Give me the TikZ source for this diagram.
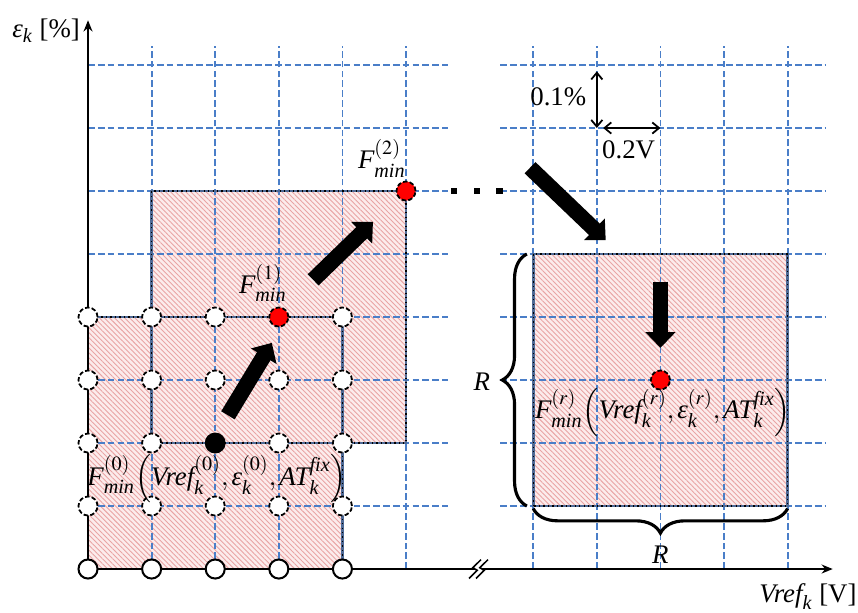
\documentclass[tikz,border=0pt]{standalone}
\usepackage{amsmath}
\usepackage{mathptmx}
\usepackage{fontspec}
\setmainfont{Liberation Serif}
\usepackage{tikz}
\usetikzlibrary{arrows.meta,positioning,calc,decorations.pathreplacing,patterns.meta}
\definecolor{srchGrid}{HTML}{4A7EC8}
\definecolor{srchFill}{HTML}{FCECEC}
\definecolor{srchHatch}{HTML}{E9A4A4}
\definecolor{srchEdge}{HTML}{4F6A96}
\definecolor{srchRed}{HTML}{FF0000}
\newcommand{\ital}[1]{\textit{#1}}
\newcommand{\fmin}[1]{\ital{F}_{\ital{min}}^{(#1)}}
\tikzset{
    >=Stealth,
    every picture/.style={font=\fontsize{12}{14}\selectfont},
    gridline/.style={draw=srchGrid, line width=0.8pt, dash pattern=on 3pt off 1.4pt},
    region/.style={preaction={fill=srchFill}, pattern={Lines[angle=-45,distance=1.6pt,line width=0.4pt]}, pattern color=srchHatch},
    outline/.style={draw=srchEdge, line width=1.2pt, postaction={draw=black, line width=0.6pt, dash pattern=on 0.6pt off 1.4pt}},
    axis/.style={line width=0.8pt, -{Stealth[length=5pt,width=4pt]}},
    probe/.style={circle, draw=black, fill=white, line width=0.8pt, dash pattern=on 2pt off 1pt, minimum size=0.3cm, inner sep=0pt},
    edgeprobe/.style={probe, solid, line width=0.9pt},
    optpoint/.style={probe, fill=srchRed},
    startpoint/.style={probe, solid, fill=black},
    dotsq/.style={rectangle, fill=black, minimum size=0.1cm, inner sep=0pt},
    bigarrow/.style={line width=7pt, -{Triangle[length=7pt,width=13pt]}},
    scalearrow/.style={line width=0.8pt, {Straight Barb[length=3pt,width=5pt]}-{Straight Barb[length=3pt,width=5pt]}},
    rbrace/.style={decorate, decoration={brace, amplitude=11pt}, line width=1.4pt}
}
\begin{document}
\begin{tikzpicture}[x=1cm, y=0.9906cm]
\useasboundingbox (-1.384,-0.698) rectangle (12.107,9.032);
% search regions
\path[region] (0,0) -- (0,4) -- (1,4) -- (1,6) -- (5,6) -- (5,2) -- (4,2) -- (4,0) -- cycle;
\path[region] (7,1) rectangle (11,5);
% grid
\foreach \y in {1,...,8} {
    \draw[gridline] (0,\y) -- (5.66,\y);
    \draw[gridline] (6.48,\y) -- (11.6,\y);
}
\foreach \x in {1,2,3,4,5,7,8,9,10,11}
    \draw[gridline] (\x,0) -- (\x,8.3);
% region borders
\draw[outline] (0,4) -- (4,4) -- (4,0);
\draw[outline] (1,2) rectangle (5,6);
\draw[outline] (7,1) rectangle (11,5);
% axes
\coordinate (origin) at (0,0);
\coordinate (xend) at (11.71,0);
\coordinate (yend) at (0,8.71);
\draw[axis] (origin) -- (xend);
\draw[axis] (origin) -- (yend);
\draw[line width=1.3pt] (0,4) -- (origin) -- (4,0);
\node (ylab) at (-0.66,8.55) {$\ital{ε}_{\ital{k}}$ [\%]};
\node (xlab) at (11.32,-0.44) {$\ital{Vref}_{\ital{k}}$ [V]};
% axis break
\fill[white] (5.99,-0.15) -- (6.12,-0.02) -- (6.05,0.02) -- (6.18,0.15) -- (6.29,0.15) -- (6.16,0.02) -- (6.23,-0.02) -- (6.1,-0.15) -- cycle;
\draw[line width=0.7pt] (5.99,-0.15) -- (6.12,-0.02) -- (6.05,0.02) -- (6.18,0.15);
\draw[line width=0.7pt] (6.1,-0.15) -- (6.23,-0.02) -- (6.16,0.02) -- (6.29,0.15);
% sample points
\foreach \i in {0,...,4}
    \node[edgeprobe] (p\i0) at (\i,0) {};
\foreach \j/\cols in {1/{0,1,2,3,4}, 2/{0,1,3,4}, 3/{0,1,2,3,4}, 4/{0,1,2,4}}
    \foreach \i in \cols
        \node[probe] (p\i\j) at (\i,\j) {};
\node[startpoint] (fzero) at (2,2) {};
\node[optpoint] (fone) at (3,4) {};
\node[optpoint] (ftwo) at (5,6) {};
\node[optpoint] (fr) at (9,3) {};
\node[dotsq] (dota) at (5.75,6) {};
\node[dotsq] (dotb) at (6.12,6) {};
\node[dotsq] (dotc) at (6.47,6) {};
% labels of the minima
\node[inner sep=0pt] (lzero) at (2.03,1.44) {$\fmin{0}\!\left(\ital{Vref}_{\ital{k}}^{(0)}, \ital{ε}_{\ital{k}}^{(0)}, \ital{AT}_{\ital{k}}^{\ital{fix}}\right)$};
\node (lone) at (2.75,4.54) {$\fmin{1}$};
\node (ltwo) at (4.62,6.52) {$\fmin{2}$};
\node[inner sep=0pt] (lr) at (9.04,2.49) {$\fmin{r}\!\left(\ital{Vref}_{\ital{k}}^{(r)}, \ital{ε}_{\ital{k}}^{(r)}, \ital{AT}_{\ital{k}}^{\ital{fix}}\right)$};
% moves
\coordinate (aones) at (2.20,2.44);
\coordinate (aonee) at (2.89,3.59);
\coordinate (atwos) at (3.54,4.59);
\coordinate (atwoe) at (4.48,5.51);
\coordinate (athrs) at (6.95,6.37);
\coordinate (athre) at (8.14,5.22);
\coordinate (afours) at (9,4.56);
\coordinate (afoure) at (9,3.51);
\draw[bigarrow] (aones) -- (aonee);
\draw[bigarrow] (atwos) -- (atwoe);
\draw[bigarrow] (athrs) -- (athre);
\draw[bigarrow] (afours) -- (afoure);
% scale
\coordinate (scorner) at (8,7);
\coordinate (stop) at (8,8);
\coordinate (sright) at (9,7);
\draw[scalearrow, shorten <=0.1cm] (stop) -- (scorner) node[midway, left=1pt] (lpct) {0.1\%};
\draw[scalearrow, shorten <=0.1cm] (scorner) -- (sright) node[midway, below=2pt] (lvolt) {0.2V};
% range R
\draw[rbrace] (6.9,1) -- (6.9,5);
\draw[rbrace] (11,0.96) -- (7,0.96);
\node (rleft) at (6.19,2.98) {$\ital{R}$};
\node (rbottom) at (9,0.22) {$\ital{R}$};
\end{tikzpicture}
\end{document}
